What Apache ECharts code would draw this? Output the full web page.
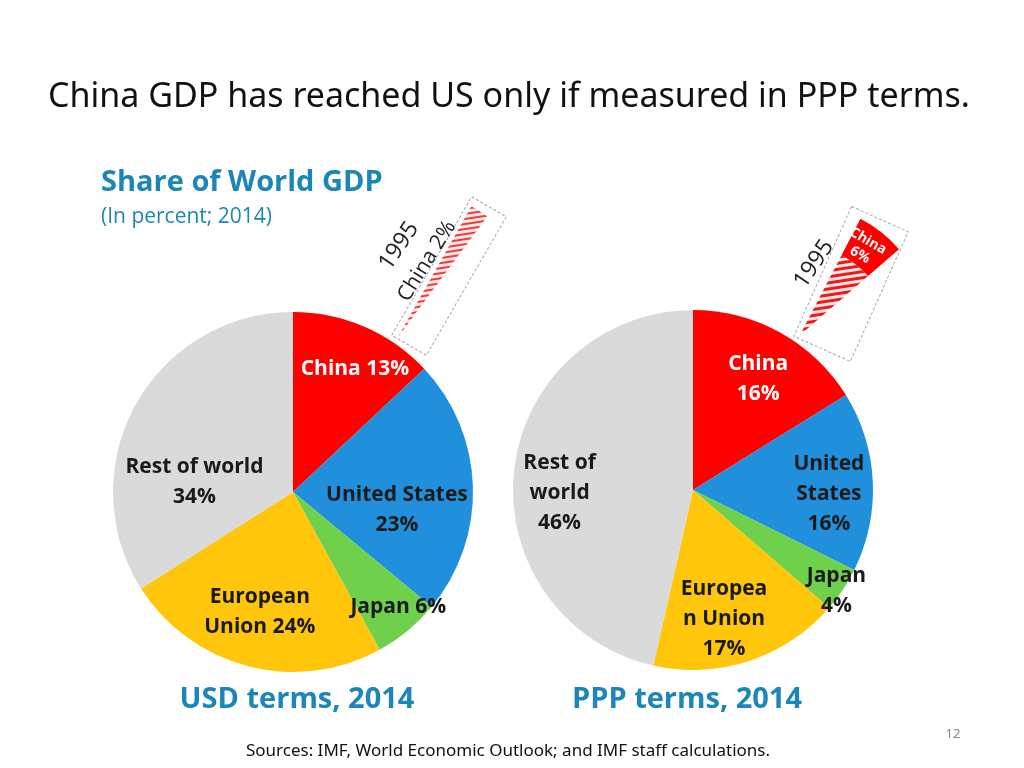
<!DOCTYPE html>
<html>
<head>
<meta charset="utf-8">
<style>
html,body{margin:0;padding:0;background:#fff;}
#chart{width:1024px;height:768px;}
</style>
<script src="https://cdn.jsdelivr.net/npm/echarts@6/dist/echarts.min.js"></script>
</head>
<body>
<div id="chart"></div>
<script>
// ---- data ----
const categories = ['China', 'United States', 'Japan', 'European Union', 'Rest of world'];
const usdShare2014 = [13, 23, 6, 24, 34];
const pppShare2014 = [16, 16, 4, 17, 46];
const usdLabels = ['China 13%', 'United States\n23%', 'Japan 6%', 'European\nUnion 24%', 'Rest of world\n34%'];
const pppLabels = ['China\n16%', 'United\nStates\n16%', 'Japan\n4%', 'Europea\nn Union\n17%', 'Rest of\nworld\n46%'];
const china1995Usd = 2;
const china1995Ppp = 6;

// ---- styles ----
const sliceColors = ['#ff0000', '#2190dc', '#6fd04b', '#ffc60b', '#dadada'];
const labelColors = ['#ffffff', '#1a1a1a', '#1a1a1a', '#1a1a1a', '#1a1a1a'];
const blue = '#1c86b8';
const R = 180;
// label shifts from the default "inside" anchor [dx, dy]
const usdShift = [[25, -38], [11, 21], [46, 43], [-10, 30], [-17, 35]];
const pppShift = [[20, -30], [43, 8], [66, 50], [2, 41], [-41, 13]];

function buildData(values, labels, shifts) {
  return values.map((v, i) => {
    const dx = shifts[i][0], dy = shifts[i][1];
    const sp = Math.max(1, Math.round(2 * Math.abs(dy)));
    const text = dy >= 0 ? '{s| }\n' + labels[i] : labels[i] + '\n{s| }';
    return {
      name: categories[i],
      value: v,
      itemStyle: { color: sliceColors[i] },
      label: {
        formatter: text,
        color: labelColors[i],
        padding: [0, Math.max(0, -2 * dx), 0, Math.max(0, 2 * dx)],
        rich: { s: { fontSize: 1, lineHeight: sp } }
      }
    };
  });
}
const pieLabel = {
  show: true, position: 'inside',
  fontFamily: 'Open Sans', fontWeight: 'bold', fontSize: 21, lineHeight: 30
};

const deg = Math.PI / 180;
function textEl(x, y, text, font, fill, align, rot, extra) {
  return Object.assign({
    type: 'text', x: x, y: y, z: 20, rotation: (rot || 0) * deg,
    style: { text: text, font: font, fill: fill, align: align || 'left', verticalAlign: 'middle' }
  }, extra || {});
}
const option = {
  animation: false,
  backgroundColor: '#ffffff',
  series: [
    {
      type: 'pie', center: [293, 492], radius: [0, R], startAngle: 90, clockwise: true,
      silent: true, label: pieLabel, labelLine: { show: false }, labelLayout: { hideOverlap: false },
      avoidLabelOverlap: false,
      data: buildData(usdShare2014, usdLabels, usdShift)
    },
    {
      type: 'pie', center: [693, 490], radius: [0, R], startAngle: 90, clockwise: true,
      silent: true, label: pieLabel, labelLine: { show: false }, labelLayout: { hideOverlap: false },
      avoidLabelOverlap: false,
      data: buildData(pppShare2014, pppLabels, pppShift)
    },
    // 1995 China wedge, USD terms
    {
      type: 'pie', center: [398, 337], radius: [0, 150], startAngle: 90 - 29.3, clockwise: true,
      silent: true, label: { show: false }, labelLine: { show: false },
      data: [
        { value: china1995Usd, itemStyle: { color: '#fde8e8', decal: { symbol: 'rect', color: '#f03a3a', dashArrayX: [1, 0], dashArrayY: [2, 3], rotation: -0.15 } } },
        { value: 100 - china1995Usd, itemStyle: { color: 'rgba(0,0,0,0)' } }
      ]
    },
    // 1995 China wedge, PPP terms (hatched inner part)
    {
      type: 'pie', center: [800, 335], radius: [0, 90], startAngle: 90 - 27.5, clockwise: true,
      silent: true, label: { show: false }, labelLine: { show: false },
      data: [
        { value: china1995Ppp, itemStyle: { color: '#fde8e8', decal: { symbol: 'rect', color: '#f01818', dashArrayX: [1, 0], dashArrayY: [3, 3], rotation: -0.15 } } },
        { value: 100 - china1995Ppp, itemStyle: { color: 'rgba(0,0,0,0)' } }
      ]
    },
    // 1995 China wedge, PPP terms (solid outer part)
    {
      type: 'pie', center: [800, 335], radius: [90, 131], startAngle: 90 - 27.5, clockwise: true,
      silent: true, label: { show: false }, labelLine: { show: false },
      data: [
        { value: china1995Ppp, itemStyle: { color: '#ff0000' } },
        { value: 100 - china1995Ppp, itemStyle: { color: 'rgba(0,0,0,0)' } }
      ]
    }
  ],
  graphic: [
    textEl(48, 97, 'China GDP has reached US only if measured in PPP terms.', '34px "Noto Sans"', '#111'),
    textEl(101, 183, 'Share of World GDP', 'bold 29px "Open Sans"', blue),
    textEl(101, 217, '(In percent; 2014)', '21px "Open Sans"', blue),
    textEl(297, 700, 'USD terms, 2014', 'bold 29px "Open Sans"', blue, 'center'),
    textEl(687, 700, 'PPP terms, 2014', 'bold 29px "Open Sans"', blue, 'center'),
    textEl(508, 751, 'Sources: IMF, World Economic Outlook; and IMF staff calculations.', '17px "Noto Sans"', '#111', 'center'),
    textEl(953, 734, '12', '13px "Noto Sans"', '#888', 'center'),
    // inset frames
    { type: 'rect', x: 449, y: 276, z: 1, rotation: -30 * deg, shape: { x: -20, y: -80, width: 40, height: 160 }, style: { fill: 'none', stroke: '#aaa', lineWidth: 1, lineDash: [3, 2] } },
    { type: 'rect', x: 851, y: 284, z: 1, rotation: -24 * deg, shape: { x: -31, y: -71, width: 62, height: 142 }, style: { fill: 'none', stroke: '#aaa', lineWidth: 1, lineDash: [3, 2] } },
    // inset texts
    textEl(399, 246, '1995', '23px "Open Sans"', '#222', 'center', 56),
    textEl(427, 261, 'China 2%', '21px "Open Sans"', '#222', 'center', 58),
    textEl(814, 264, '1995', '23px "Open Sans"', '#222', 'center', 56),
    { type: 'text', x: 864, y: 248, z: 20, rotation: -30 * deg, style: { text: 'China\n6%', font: 'bold 14px "Open Sans"', lineHeight: 16, fill: '#fff', align: 'center', verticalAlign: 'middle' } }
  ]
};
const chart = echarts.init(document.getElementById('chart'), null, { renderer: 'canvas' });
chart.setOption(option);
</script>
</body>
</html>
